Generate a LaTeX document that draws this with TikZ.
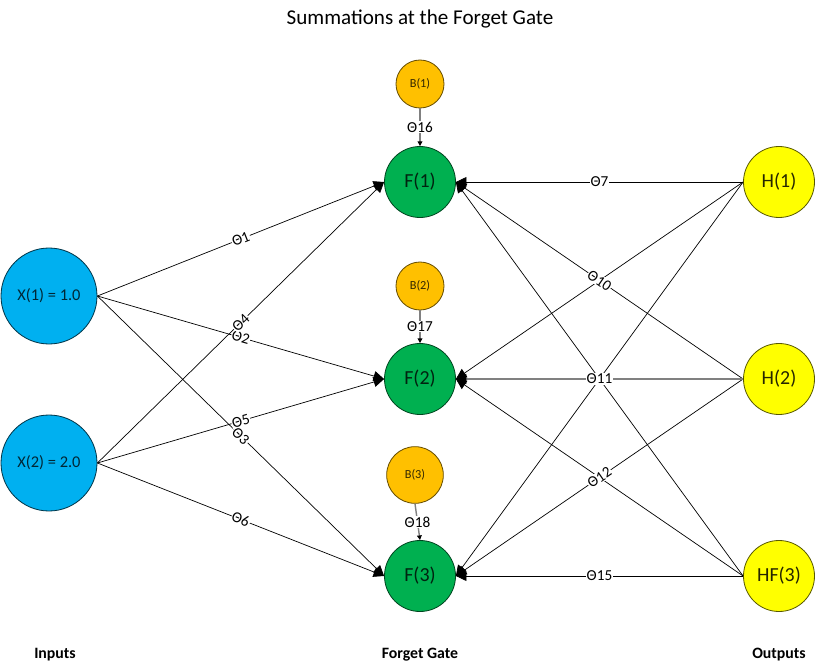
\documentclass[tikz,border=0pt]{standalone}
\usepackage{fontspec}
\setmainfont{Carlito}
\usepackage{tikz}
\usetikzlibrary{arrows.meta, positioning}
\definecolor{FGSky}{RGB}{0, 176, 240}
\definecolor{FGGreen}{RGB}{0, 176, 80}
\definecolor{FGAmber}{RGB}{255, 192, 0}
\definecolor{FGYellow}{RGB}{255, 255, 0}
\definecolor{FGWire}{RGB}{128, 128, 128}

\tikzset{
  neuron/.style={circle, draw, line width=0.7pt, inner sep=0pt},
  inneuron/.style={neuron, fill=FGSky, draw=FGSky!30!black, text=FGSky!22!black,
                   minimum size=28.8mm, font=\fontsize{14}{16}\selectfont},
  gateneuron/.style={neuron, fill=FGGreen, draw=FGGreen!40!black, text=FGGreen!20!black,
                   minimum size=21.3mm, font=\fontsize{17}{19}\selectfont},
  biasneuron/.style={neuron, fill=FGAmber, draw=FGAmber!40!black, text=FGAmber!20!black,
                   minimum size=14.4mm, font=\fontsize{10.5}{12}\selectfont},
  outneuron/.style={neuron, fill=FGYellow, draw=FGYellow!35!black, text=FGYellow!15!black,
                   minimum size=21.3mm, font=\fontsize{17}{19}\selectfont},
  wire/.style={line width=0.6pt, -{Triangle[length=9pt, width=8.5pt]}},
  biaswire/.style={draw=FGWire, line width=1.2pt, -{Triangle[length=4pt, width=4pt, color=black]}},
  wlabel/.style={fill=white, inner sep=0.6pt, font=\fontsize{13}{15}\selectfont},
  caption/.style={font=\fontsize{13.5}{15}\selectfont\bfseries}
}

\begin{document}
\begin{tikzpicture}[x=0.3mm, y=-0.3mm]
  \useasboundingbox (0,0) rectangle (816,672);

  \node[font=\fontsize{18}{20}\selectfont] (title) at (420,19) {Summations at the Forget Gate};

  % inputs
  \node[inneuron] (x1) at (49,296) {X(1) = 1.0};
  \node[inneuron] (x2) at (49,463) {X(2) = 2.0};

  % forget gate
  \node[gateneuron] (f1) at (420,182) {F(1)};
  \node[gateneuron] (f2) at (420,379) {F(2)};
  \node[gateneuron] (f3) at (420,576) {F(3)};
  \node[biasneuron] (b1) at (420,84) {B(1)};
  \node[biasneuron] (b2) at (420,286) {B(2)};
  \node[biasneuron, minimum size=17mm] (b3) at (415,475) {B(3)};

  % outputs
  \node[outneuron] (h1) at (779,182) {H(1)};
  \node[outneuron] (h2) at (779,379) {H(2)};
  \node[outneuron] (h3) at (779,576) {HF(3)};

  % input weights
  \foreach \src/\dst/\w in {x1/f1/1, x1/f2/2, x1/f3/3, x2/f1/4, x2/f2/5, x2/f3/6}
    \draw[wire] (\src.east) -- node[wlabel, sloped] {Θ\w} (\dst.west);

  % recurrent weights (crossing labels sit under the H(2) ones)
  \foreach \src/\dst in {h1/f2, h1/f3, h3/f1, h3/f2}
    \draw[wire] (\src.west) -- (\dst.east);
  \foreach \src/\dst/\w in {h1/f1/7, h3/f3/15, h2/f1/10, h2/f3/12}
    \draw[wire] (\src.west) -- node[wlabel, sloped] {Θ\w} (\dst.east);
  \draw[wire, draw=FGWire, line width=1.1pt, -{Triangle[length=9pt, width=8.5pt, color=black]}]
    (h2.west) -- node[wlabel] {Θ11} (f2.east);

  % bias weights
  \draw[biaswire] (b1.south) -- node[wlabel] {Θ16} (f1.north);
  \draw[biaswire] (b2.south) -- node[wlabel] {Θ17} (f2.north);
  \draw[biaswire] (b3.south) -- node[wlabel] {Θ18} (f3.north);

  \node[caption] (lin) at (55,655) {Inputs};
  \node[caption] (lgate) at (420,655) {Forget Gate};
  \node[caption] (lout) at (779,655) {Outputs};
\end{tikzpicture}
\end{document}
